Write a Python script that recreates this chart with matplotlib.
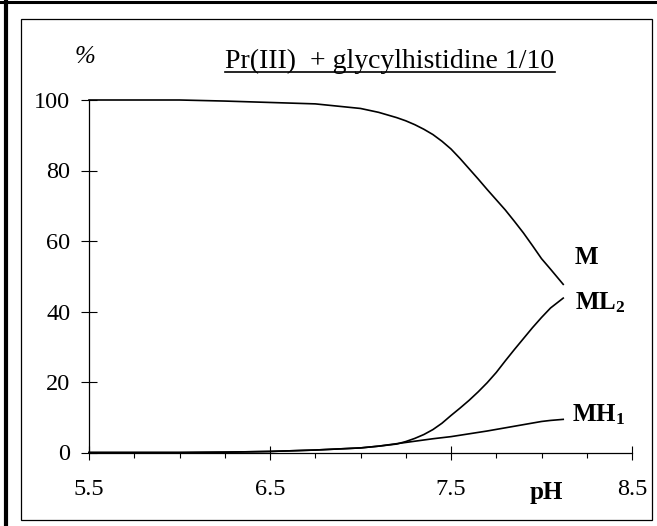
import numpy as np
import matplotlib
matplotlib.use("Agg")
import matplotlib.pyplot as plt
from matplotlib.lines import Line2D
from matplotlib.patches import Rectangle
from matplotlib.ticker import FixedLocator

plt.rcParams['font.family'] = ['Liberation Serif', 'DejaVu Serif']
plt.rcParams['mathtext.fontset'] = 'custom'
plt.rcParams['mathtext.rm'] = 'Liberation Serif'
plt.rcParams['mathtext.bf'] = 'Liberation Serif:bold'
plt.rcParams['mathtext.it'] = 'Liberation Serif:italic'

# ---- data ----
ph = [5.5, 6.0, 6.25, 6.5, 6.75, 7.0, 7.1, 7.2, 7.25, 7.3, 7.35, 7.4, 7.45, 7.5,
      7.55, 7.6, 7.65, 7.7, 7.75, 7.8, 7.85, 7.9, 7.95, 8.0, 8.05, 8.12]
m_pct = [100, 100, 99.7, 99.3, 98.9, 97.6, 96.5, 95.0, 94.1, 93.0, 91.7, 90.2, 88.3, 86.1,
         83.4, 80.5, 77.6, 74.6, 71.7, 68.8, 65.6, 62.3, 58.7, 55.0, 52.0, 47.7]
ml2_pct = [0, 0, 0.1, 0.3, 0.7, 1.3, 1.8, 2.4, 3.1, 4.0, 5.1, 6.5, 8.3, 10.5,
           12.6, 14.8, 17.2, 19.8, 22.7, 26.0, 29.2, 32.3, 35.4, 38.3, 41.0, 43.8]
mh1_pct = [0, 0, 0.1, 0.3, 0.7, 1.3, 1.8, 2.5, 2.85, 3.2, 3.55, 3.9, 4.2, 4.5,
           4.9, 5.3, 5.7, 6.1, 6.55, 7.0, 7.45, 7.9, 8.35, 8.8, 9.1, 9.4]
x_major = [5.5, 6.5, 7.5, 8.5]
x_major_labels = ["5.5", "6.5", "7.5", "8.5"]
y_ticks = [0, 20, 40, 60, 80, 100]
title = "Pr(III)  + glycylhistidine 1/10"

W, H = 657, 526
fig = plt.figure(figsize=(W / 100, H / 100), dpi=100)
ax = fig.add_axes([89 / W, 1 - 452.5 / H, (632 - 89) / W, (452.5 - 100) / H])

for y in (m_pct, ml2_pct, mh1_pct):
    ax.plot(ph, y, color='black', lw=1.2, clip_on=False, solid_joinstyle='round')

ax.set_xlim(5.5, 8.5)
ax.set_ylim(0, 100)
for s in ('top', 'right'):
    ax.spines[s].set_visible(False)
for s in ('left', 'bottom'):
    ax.spines[s].set_linewidth(0.9)

ax.set_xticks(x_major)
ax.set_xticklabels(x_major_labels)
minor = [v for v in np.arange(5.5, 8.51, 0.25) if all(abs(v - mj) > 1e-6 for mj in x_major)]
ax.xaxis.set_minor_locator(FixedLocator(minor))
ax.tick_params(axis='x', which='major', direction='inout', length=10, width=0.8, pad=14, labelsize=17.5)
ax.tick_params(axis='x', which='minor', direction='out', length=3.6, width=0.8)
ax.set_yticks(y_ticks)
ax.tick_params(axis='y', which='major', direction='inout', length=11, width=0.8, pad=8, labelsize=17.5)

# curve labels
ax.text(8.185, 55.2, "M", fontsize=18, fontweight='bold', va='center', ha='left')
ax.text(8.185, 42.4, r"ML$_\mathbf{2}$", fontsize=18, fontweight='bold', va='center', ha='left')
ax.text(8.17, 10.6, r"MH$_\mathbf{1}$", fontsize=18, fontweight='bold', va='center', ha='left')

# axis labels
fig.text(546 / W, 1 - 492 / H, "pH", fontsize=18, fontweight='bold', ha='center', va='center')
fig.text(85 / W, 1 - 57 / H, "%", fontsize=18, style='italic', ha='center', va='center')

# title with underline
t = fig.text(390 / W, 1 - 68 / H, title, fontsize=20, ha='center', va='baseline')
fig.canvas.draw()
bb = t.get_window_extent(renderer=fig.canvas.get_renderer())
uy = 1 - 71.5 / H
fig.add_artist(Line2D([bb.x0 / W, bb.x1 / W], [uy, uy], color='black', lw=1.2,
                      transform=fig.transFigure))

# frame
fig.add_artist(Rectangle((21 / W, 1 - 520 / H), (652 - 21) / W, (520 - 19) / H,
                         transform=fig.transFigure, fill=False, lw=0.9, ec='black'))
fig.add_artist(Line2D([5.5 / W, 5.5 / W], [0, 1], color='black', lw=3.0, transform=fig.transFigure))
fig.add_artist(Line2D([0, 1], [1 - 1.5 / H, 1 - 1.5 / H], color='black', lw=2.2, transform=fig.transFigure))

fig.savefig("out.png", dpi=100)
